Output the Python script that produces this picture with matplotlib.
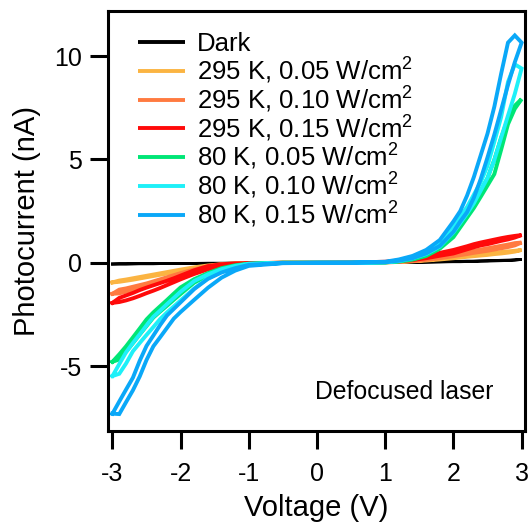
import matplotlib
matplotlib.use("Agg")
import matplotlib.pyplot as plt

plt.rcParams['font.family'] = ['Liberation Sans', 'DejaVu Sans']
plt.rcParams['mathtext.fontset'] = 'custom'
plt.rcParams['mathtext.rm'] = 'Liberation Sans'
plt.rcParams['mathtext.it'] = 'Liberation Sans'
plt.rcParams['axes.unicode_minus'] = False

# Voltage grid (V)
voltage = [-3.0, -2.9, -2.8, -2.7, -2.6, -2.5, -2.4, -2.3, -2.2, -2.1, -2.0,
           -1.8, -1.6, -1.4, -1.2, -1.0, -0.5, 0.0, 0.5,
           1.0, 1.2, 1.4, 1.6, 1.8, 2.0, 2.1, 2.2, 2.3, 2.4, 2.5, 2.6, 2.7, 2.8, 2.9, 3.0]

labels = ["Dark",
          "295 K, 0.05 W/cm$^{2}$",
          "295 K, 0.10 W/cm$^{2}$",
          "295 K, 0.15 W/cm$^{2}$",
          "80 K, 0.05 W/cm$^{2}$",
          "80 K, 0.10 W/cm$^{2}$",
          "80 K, 0.15 W/cm$^{2}$"]
colors = ["#000000", "#FBB442", "#FF7A40", "#FF0A0A", "#00E676", "#1EF0F8", "#0AA8F8"]

# Photocurrent (nA): two sweep branches per curve
dark_a = [-0.06, -0.06, -0.06, -0.05, -0.05, -0.05, -0.05, -0.04, -0.04, -0.04, -0.04,
          -0.03, -0.03, -0.03, -0.02, -0.02, -0.01, 0.0, 0.01,
          0.02, 0.02, 0.03, 0.04, 0.05, 0.06, 0.07, 0.08, 0.08, 0.09, 0.10, 0.11, 0.12, 0.13, 0.14, 0.16]
dark_b = [-0.06, -0.05, -0.05, -0.05, -0.04, -0.04, -0.04, -0.04, -0.03, -0.03, -0.03,
          -0.03, -0.02, -0.02, -0.02, -0.01, -0.01, 0.0, 0.0,
          0.01, 0.02, 0.02, 0.03, 0.04, 0.05, 0.05, 0.06, 0.07, 0.08, 0.08, 0.09, 0.10, 0.11, 0.13, 0.16]

k295_005_a = [-0.95, -0.92, -0.87, -0.82, -0.76, -0.70, -0.64, -0.58, -0.52, -0.46, -0.40,
              -0.28, -0.17, -0.10, -0.05, -0.02, 0.0, 0.0, 0.0,
              0.03, 0.05, 0.09, 0.14, 0.20, 0.27, 0.31, 0.34, 0.38, 0.42, 0.45, 0.48, 0.52, 0.55, 0.58, 0.62]
k295_005_b = [-0.95, -0.86, -0.81, -0.75, -0.69, -0.63, -0.57, -0.51, -0.45, -0.39, -0.33,
              -0.22, -0.13, -0.07, -0.03, -0.01, 0.0, 0.0, 0.0,
              0.02, 0.04, 0.07, 0.11, 0.16, 0.22, 0.25, 0.29, 0.32, 0.35, 0.38, 0.42, 0.45, 0.49, 0.54, 0.62]

k295_010_a = [-1.50, -1.48, -1.40, -1.31, -1.21, -1.12, -1.03, -0.94, -0.84, -0.73, -0.62,
              -0.42, -0.25, -0.13, -0.06, -0.03, 0.0, 0.0, 0.0,
              0.03, 0.06, 0.12, 0.20, 0.30, 0.40, 0.46, 0.52, 0.58, 0.64, 0.70, 0.76, 0.82, 0.88, 0.95, 0.98]
k295_010_b = [-1.50, -1.30, -1.24, -1.16, -1.08, -1.00, -0.90, -0.80, -0.70, -0.60, -0.50,
              -0.32, -0.17, -0.08, -0.04, -0.02, 0.0, 0.0, 0.0,
              0.02, 0.04, 0.08, 0.14, 0.22, 0.32, 0.37, 0.42, 0.48, 0.53, 0.58, 0.64, 0.70, 0.76, 0.84, 0.98]

k295_015_a = [-1.94, -1.90, -1.82, -1.72, -1.60, -1.47, -1.35, -1.22, -1.08, -0.94, -0.80,
              -0.54, -0.32, -0.17, -0.08, -0.04, -0.01, 0.0, 0.01,
              0.05, 0.11, 0.20, 0.33, 0.48, 0.62, 0.71, 0.80, 0.90, 0.98, 1.05, 1.12, 1.19, 1.25, 1.30, 1.34]
k295_015_b = [-1.94, -1.70, -1.58, -1.46, -1.32, -1.20, -1.09, -0.98, -0.87, -0.75, -0.62,
              -0.36, -0.16, -0.07, -0.03, -0.02, 0.0, 0.0, 0.0,
              0.03, 0.07, 0.13, 0.22, 0.34, 0.45, 0.55, 0.65, 0.75, 0.84, 0.90, 0.98, 1.06, 1.13, 1.22, 1.34]

k80_005_a = [-4.79, -4.68, -4.30, -3.89, -3.47, -3.06, -2.65, -2.36, -2.08, -1.79, -1.51,
             -0.96, -0.62, -0.35, -0.17, -0.06, 0.0, 0.0, 0.0,
             0.02, 0.08, 0.20, 0.41, 0.80, 1.43, 1.90, 2.37, 2.88, 3.49, 4.10, 4.99, 6.06, 6.97, 7.60, 7.92]
k80_005_b = [-4.79, -4.43, -4.04, -3.61, -3.18, -2.74, -2.40, -2.10, -1.80, -1.49, -1.19,
             -0.79, -0.50, -0.26, -0.12, -0.04, 0.0, 0.0, 0.0,
             0.02, 0.06, 0.15, 0.33, 0.68, 1.24, 1.71, 2.18, 2.65, 3.19, 3.74, 4.29, 5.47, 6.70, 7.45, 7.92]

k80_010_a = [-5.48, -5.37, -4.87, -4.28, -3.88, -3.49, -3.11, -2.72, -2.40, -2.11, -1.82,
             -1.24, -0.75, -0.42, -0.21, -0.08, -0.01, 0.0, 0.0,
             0.03, 0.12, 0.30, 0.55, 0.98, 1.79, 2.25, 2.70, 3.30, 3.90, 4.69, 5.85, 7.05, 8.75, 9.60, 9.40]
k80_010_b = [-5.48, -4.90, -4.33, -3.88, -3.46, -3.03, -2.61, -2.31, -2.00, -1.70, -1.40,
             -0.88, -0.56, -0.31, -0.15, -0.05, 0.0, 0.0, 0.0,
             0.02, 0.08, 0.21, 0.42, 0.78, 1.47, 1.92, 2.38, 2.88, 3.49, 4.10, 4.97, 6.05, 7.12, 8.17, 9.40]

k80_015_a = [-7.30, -7.32, -6.74, -6.17, -5.50, -4.70, -4.04, -3.60, -3.15, -2.70, -2.38,
             -1.79, -1.21, -0.72, -0.38, -0.15, -0.02, 0.0, 0.01,
             0.05, 0.16, 0.33, 0.62, 1.10, 2.00, 2.50, 3.25, 4.15, 5.20, 6.25, 7.55, 9.15, 10.65, 11.00, 10.65]
k80_015_b = [-7.30, -6.71, -6.13, -5.56, -4.74, -4.02, -3.52, -3.01, -2.55, -2.23, -1.91,
             -1.27, -0.78, -0.47, -0.26, -0.10, -0.01, 0.0, 0.0,
             0.03, 0.10, 0.22, 0.45, 0.82, 1.50, 2.00, 2.45, 3.15, 4.05, 5.10, 6.20, 7.40, 8.60, 9.70, 10.65]

branches = [(dark_a, dark_b), (k295_005_a, k295_005_b), (k295_010_a, k295_010_b),
            (k295_015_a, k295_015_b), (k80_005_a, k80_005_b), (k80_010_a, k80_010_b),
            (k80_015_a, k80_015_b)]

xticks = [-3, -2, -1, 0, 1, 2, 3]
yticks = [-5, 0, 5, 10]

W, H = 530, 532
fig = plt.figure(figsize=(W / 100, H / 100), dpi=100)
ax_l, ax_b, ax_w, ax_h = 0.2038, 0.1898, 0.7868, 0.7895
ax = fig.add_axes([ax_l, ax_b, ax_w, ax_h])

for (a, b), c, lab in zip(branches, colors, labels):
    vv = voltage + voltage[::-1]
    ii = a + b[::-1]
    lw = 2.0 if lab == "Dark" else 2.8
    ax.plot(vv, ii, color=c, lw=lw, solid_joinstyle='miter')

ax.set_xlim(-3.065, 3.05)
ax.set_ylim(-8.14, 12.18)
ax.set_xticks(xticks)
ax.set_xticklabels([str(t) for t in xticks])
ax.set_yticks(yticks)
ax.set_yticklabels([str(t) for t in yticks])
ax.tick_params(axis='both', direction='out', length=13, width=2.2, labelsize=18,
               top=False, right=False)
ax.tick_params(axis='x', pad=9)
ax.tick_params(axis='y', pad=6)
for s in ax.spines.values():
    s.set_linewidth(2.2)

ax.set_xlabel("Voltage (V)", fontsize=21, labelpad=6)
ax.set_ylabel("Photocurrent (nA)", fontsize=21, labelpad=9)

# Legend drawn as key lines + labels (frameless, fixed row pitch)
top_px = H * (1 - ax_b - ax_h)
h_px = H * ax_h
leg_fs = 18.5
for i, (c, lab) in enumerate(zip(colors, labels)):
    yc_px = 42 + 28.8 * i
    yc = 1 - (yc_px - top_px) / h_px
    yb = 1 - (yc_px + 0.36 * leg_fs * 100 / 72 - top_px) / h_px
    ax.plot([0.072, 0.185], [yc, yc], transform=ax.transAxes, color=c,
            lw=2.8, solid_capstyle='butt', clip_on=False)
    ax.text(0.2134, yb, lab, transform=ax.transAxes, fontsize=leg_fs,
            ha='left', va='baseline')

ax.text(0.71, 0.093, "Defocused laser", transform=ax.transAxes, fontsize=17.8,
        ha='center', va='center')

fig.savefig("out.png", dpi=100)
